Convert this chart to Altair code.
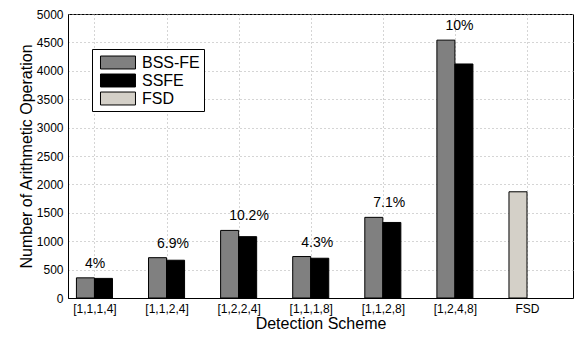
import json
import altair as alt
import pandas as pd

categories = ["[1,1,1,4]", "[1,1,2,4]", "[1,2,2,4]", "[1,1,1,8]", "[1,1,2,8]", "[1,2,4,8]", "FSD"]
bss_fe = [355, 710, 1190, 730, 1420, 4540]
ssfe = [345, 665, 1080, 700, 1330, 4120]
fsd = [1870]
gains = ["4%", "6.9%", "10.2%", "4.3%", "7.1%", "10%"]
series = ["BSS-FE", "SSFE", "FSD"]
colors = ["#808080", "#000000", "#d4d0c8"]

rows = []
for i, v in enumerate(bss_fe):
    rows.append({"g": i + 1, "series": "BSS-FE", "value": v, "x0": i + 1 - 0.25, "x1": i + 1})
for i, v in enumerate(ssfe):
    rows.append({"g": i + 1, "series": "SSFE", "value": v, "x0": i + 1, "x1": i + 1.25})
for v in fsd:
    g = len(categories)
    rows.append({"g": g, "series": "FSD", "value": v, "x0": g - 0.25, "x1": g})
bars_df = pd.DataFrame(rows)

labels_df = pd.DataFrame({"g": list(range(1, len(gains) + 1)), "value": bss_fe, "text": gains})

FONT = "Liberation Sans"
xscale = alt.Scale(domain=[0.633, 7.638], nice=False, zero=False)
yscale = alt.Scale(domain=[0, 5000], nice=False)

label_expr = json.dumps(categories) + "[datum.value - 1]"

x_axis = alt.Axis(values=list(range(1, 8)), labelExpr=label_expr, title="Detection Scheme",
                  grid=True, ticks=False, labelPadding=5, titlePadding=1, labelOverlap=False)
y_axis = alt.Axis(values=list(range(0, 5001, 500)), format="d",
                  title="Number of Arithmetic Operation",
                  grid=True, ticks=False, labelPadding=5, titlePadding=2, labelOverlap=False)

bars = alt.Chart(bars_df).mark_bar(stroke="black", strokeWidth=1).encode(
    x=alt.X("x0:Q", scale=xscale, axis=x_axis),
    x2="x1:Q",
    y=alt.Y("value:Q", scale=yscale, axis=y_axis),
    y2=alt.datum(0),
    color=alt.Color("series:N", scale=alt.Scale(domain=series, range=colors),
                    legend=alt.Legend(title=None, orient="none", legendX=24, legendY=35,
                                      symbolType="M-0.556,-0.72H3.33V0.72H-0.556Z", symbolSize=324,
                                      symbolStrokeColor="black", symbolStrokeWidth=1,
                                      symbolOpacity=1, labelFontSize=16, labelFont=FONT,
                                      labelColor="black", labelOffset=27, rowPadding=0,
                                      strokeColor="black", fillColor="white",
                                      padding=4, offset=0)),
)

texts = alt.Chart(labels_df).mark_text(align="left", baseline="alphabetic", dx=-9.5, dy=-10,
                                        fontSize=14, font=FONT, color="black").encode(
    x=alt.X("g:Q", scale=xscale, axis=x_axis),
    y=alt.Y("value:Q", scale=yscale, axis=y_axis),
    text="text:N",
)

chart = alt.layer(bars, texts).properties(
    width=505, height=284,
    autosize=alt.AutoSizeParams(type="none"),
    padding={"left": 60, "top": 6, "right": 1, "bottom": 32},
).configure_view(stroke="black", strokeWidth=1).configure_axis(
    labelFont=FONT, labelFontSize=12, labelColor="black",
    titleFont=FONT, titleFontSize=16, titleColor="black", titleFontWeight="normal",
    domainColor="black", gridColor="#aaaaaa", gridDash=[1, 3], gridOpacity=1,
)

chart.save("out.html", embed_options={"renderer": "svg", "actions": False})
